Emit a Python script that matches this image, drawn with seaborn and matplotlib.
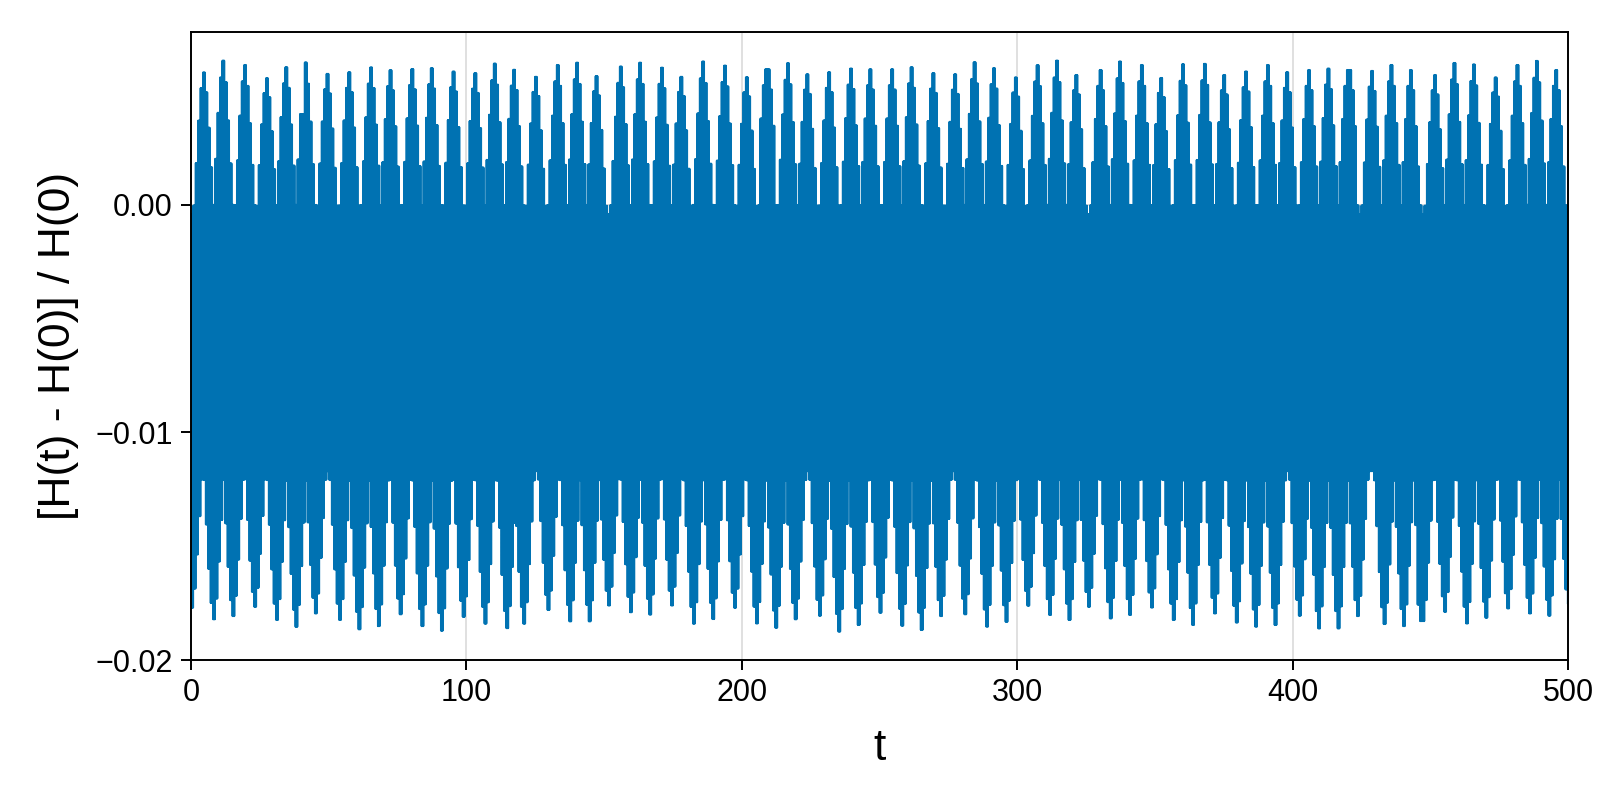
import numpy as np
import matplotlib
matplotlib.use("Agg")
import matplotlib.pyplot as plt
import seaborn as sns

# ---------------- data ----------------
# times and heights of the upper envelope peaks of [H(t)-H(0)]/H(0)
top_peak_t = [4.7, 11.7, 19.0, 27.1, 34.7, 41.8, 49.3, 57.4, 65.0, 72.1, 79.9, 87.5,
              94.8, 102.7, 110.0, 117.0, 124.9, 133.0, 140.0, 147.3, 155.8, 163.0,
              170.3, 178.2, 186.0, 193.3, 201.2, 209.0, 216.3, 223.2, 231.2, 239.0,
              246.3, 254.2, 261.3, 268.9, 276.8, 284.2, 291.3, 299.2, 307.3, 314.3,
              321.4, 330.1, 337.3, 344.6, 352.0, 360.3, 367.6, 374.8, 382.7, 390.3,
              397.6, 405.5, 412.7, 420.2, 428.5, 435.7, 443.0, 451.1, 458.6, 465.6,
              473.5, 481.7, 488.6, 495.6]
top_peak_v = [0.00582, 0.00634, 0.00615, 0.00557, 0.00605, 0.00626, 0.00576, 0.00583,
              0.00604, 0.00592, 0.00597, 0.00601, 0.00586, 0.00579, 0.00621, 0.00594,
              0.00563, 0.00615, 0.00625, 0.00566, 0.00608, 0.00625, 0.00603, 0.00563,
              0.00630, 0.00612, 0.00561, 0.00596, 0.00623, 0.00574, 0.00583, 0.00599,
              0.00596, 0.00596, 0.00605, 0.00579, 0.00574, 0.00627, 0.00601, 0.00560,
              0.00614, 0.00634, 0.00571, 0.00593, 0.00630, 0.00615, 0.00558, 0.00618,
              0.00620, 0.00571, 0.00586, 0.00615, 0.00583, 0.00593, 0.00599, 0.00593,
              0.00589, 0.00615, 0.00593, 0.00571, 0.00624, 0.00617, 0.00560, 0.00615,
              0.00633, 0.00593]
# times and depths of the lower envelope troughs
bot_trough_t = [0.3, 7.7, 15.0, 23.2, 30.7, 37.8, 45.0, 53.7, 60.8, 68.0, 76.1, 83.8,
                91.0, 98.3, 106.8, 114.0, 120.7, 129.7, 137.0, 143.9, 151.5, 159.4,
                166.7, 174.5, 181.8, 189.1, 196.9, 205.2, 212.3, 219.3, 228.0, 235.3,
                242.3, 249.6, 258.0, 265.3, 272.3, 281.0, 288.3, 295.3, 303.4, 311.1,
                318.3, 325.8, 333.4, 340.3, 348.8, 356.4, 363.6, 371.2, 379.4, 386.6,
                393.6, 402.3, 409.6, 416.6, 423.6, 432.6, 439.6, 446.6, 455.3, 462.6,
                469.6, 477.5, 485.4, 492.6, 499.5]
bot_trough_v = [-0.0177, -0.01821, -0.01807, -0.01766, -0.01824, -0.01854, -0.01795,
                -0.01824, -0.01865, -0.01851, -0.01799, -0.01851, -0.01871, -0.01810,
                -0.0184, -0.0186, -0.0184, -0.0178, -0.0183, -0.0183, -0.0176, -0.0179,
                -0.0180, -0.0176, -0.0184, -0.0182, -0.0177, -0.01839, -0.01858,
                -0.01821, -0.01805, -0.01875, -0.01846, -0.01792, -0.01849, -0.01868,
                -0.01807, -0.01799, -0.01853, -0.01832, -0.01761, -0.01802, -0.01824,
                -0.01766, -0.01817, -0.01802, -0.01769, -0.01824, -0.01846, -0.01795,
                -0.01835, -0.01853, -0.01846, -0.01805, -0.01861, -0.01861, -0.01807,
                -0.01842, -0.01851, -0.01829, -0.01788, -0.01839, -0.01814, -0.01773,
                -0.01795, -0.01805, -0.01754]
top_base = -0.0004          # upper envelope between spikes
bot_base = -0.0117          # lower envelope between troughs
spike_shape = [0.06, 0.36, 0.66, 0.89, 1.0, 0.86, 0.61, 0.33, 0.06]  # step profile of one spike
fast_period = 0.88          # width of one fast oscillation step (time units)
t_end = 500.0

x_ticks = [0, 100, 200, 300, 400, 500]
x_tick_labels = ["0", "100", "200", "300", "400", "500"]
y_ticks = [-0.02, -0.01, 0.0]
y_tick_labels = ["\u22120.02", "\u22120.01", "0.00"]

# ---------------- assemble the fast oscillation ----------------
n_steps = int(t_end / fast_period) + 1
t_step = np.arange(n_steps + 1) * fast_period
half = len(spike_shape) // 2


def envelope(peak_t, peak_v, base):
    env = np.full(len(t_step), base)
    for tp, vp in zip(peak_t, peak_v):
        for i, ts in enumerate(t_step):
            k = int(round((ts - tp) / fast_period))
            if -half <= k <= half:
                cand = base + (vp - base) * spike_shape[k + half]
                if abs(cand - base) > abs(env[i] - base):
                    env[i] = cand
    return env


top_env = envelope(top_peak_t, top_peak_v, top_base)
bot_env = envelope(bot_trough_t, bot_trough_v, bot_base)

sub = 3
xs, ys = [], []
for i, ts in enumerate(t_step):
    for j in range(2 * sub):
        xs.append(ts + j * fast_period / (2 * sub))
        ys.append(top_env[i] if j % 2 == 0 else bot_env[i])
xs = np.array(xs)
ys = np.array(ys)

# ---------------- plot ----------------
sns.set_theme(style="white")
plt.rcParams["font.family"] = ["Liberation Sans", "DejaVu Sans"]

fig = plt.figure(figsize=(16, 8), dpi=100)
ax = fig.add_axes([191 / 1600, 1 - 660 / 800, 1377 / 1600, 628 / 800])

sns.lineplot(x=xs, y=ys, ax=ax, estimator=None, sort=False, errorbar=None,
             color="#0072B2", linewidth=1.5)

ax.set_xlim(0, 500)
ax.set_ylim(-0.02, 0.0076)
ax.set_xticks(x_ticks)
ax.set_xticklabels(x_tick_labels)
ax.set_yticks(y_ticks)
ax.set_yticklabels(y_tick_labels)

ax.grid(True, color="#e0e0e0", linewidth=1.4)
ax.set_axisbelow(True)
for s in ax.spines.values():
    s.set_visible(True)
    s.set_color("black")
    s.set_linewidth(1.4)

ax.tick_params(axis="both", direction="out", length=7, width=1.4, colors="black",
               labelsize=22, pad=6, bottom=True, left=True)

ax.set_xlabel("t", fontsize=32, color="black")
ax.set_ylabel("[H(t) - H(0)] / H(0)", fontsize=32, color="black")
ax.xaxis.set_label_coords(0.5, (660 - 748) / 628)
ax.xaxis.label.set_va("center")
ax.yaxis.set_label_coords((59 - 191) / 1377, 0.5)
ax.yaxis.label.set_va("center")

fig.savefig("out.png", dpi=100)
